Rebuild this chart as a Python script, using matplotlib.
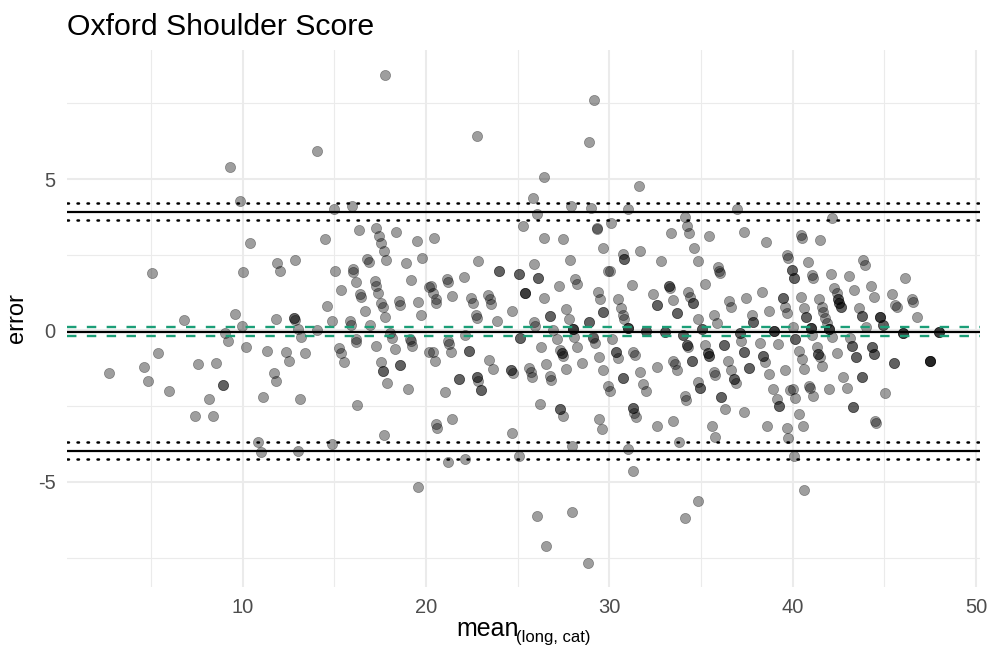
import matplotlib
matplotlib.use("Agg")
import matplotlib.pyplot as plt
import numpy as np

plt.rcParams['font.family'] = ['Liberation Sans', 'DejaVu Sans']

title = "Oxford Shoulder Score"
x_label_main = "mean"
x_label_sub = "(long, cat)"
y_label = "error"
x_ticks = [10, 20, 30, 40, 50]
x_tick_labels = ["10", "20", "30", "40", "50"]
y_ticks = [-5, 0, 5]
y_tick_labels = ["-5", "0", "5"]

# reference lines
bias = -0.04
bias_ci = [0.125, -0.17]
loa = [3.92, -3.98]
loa_ci = [4.20, 3.64, -3.69, -4.25]

pts = [
    (2.71,-1.39),(4.61,-1.19),(4.85,-1.67),(5.36,-0.73),(6.0,-1.99),(7.54,-1.1),(8.54,-1.08),
    (8.91,-1.81),(8.91,-1.81),(8.14,-2.27),(7.40,-2.82),(8.4,-2.82),(6.8,0.35),(9.05,-0.09),
    (9.2,-0.34),(9.94,0.15),(10.2,-0.53),
    (9.31,5.39),(9.85,4.27),(10.4,2.9),(5.05,1.91),(10.0,1.94),(9.58,0.54),
    (17.76,8.42),(14.04,5.91),(15.0,4.01),(15.95,4.12),(14.49,3.02),(16.35,3.32),(17.27,3.39),
    (17.45,3.13),(17.56,2.88),(17.69,2.62),(17.82,2.33),(18.38,3.24),(19.53,2.95),(19.78,2.4),
    (11.89,2.24),(12.02,1.95),(12.85,2.32),(15.03,1.95),(16.0,2.03),(16.03,1.94),(16.8,2.36),
    (16.87,2.25),(18.89,2.23),(16.2,1.61),(15.35,1.34),(17.2,1.64),(17.26,1.48),(17.4,1.23),
    (19.17,1.66),(20.16,1.45),(16.4,1.19),(16.45,1.1),(14.58,0.82),(17.56,0.9),(17.63,0.79),
    (18.53,0.98),(18.6,0.84),(19.55,0.93),(16.69,0.63),(17.78,0.46),(19.74,0.51),(11.82,0.38),
    (12.8,0.42),(12.85,0.36),(12.8,0.42),(14.86,0.32),(15.85,0.32),(15.91,0.18),(16.95,0.18),
    (13.03,0.04),(14.04,0.02),(13.18,-0.2),(16.2,-0.28),(18.04,-0.09),(19.13,-0.27),
    (11.34,-0.68),(12.38,-0.72),(12.53,-1.02),(13.38,-0.75),(11.69,-1.41),(11.83,-1.66),
    (11.09,-2.19),(13.13,-2.25),(15.25,-0.57),(15.35,-0.74),(15.53,-1.03),(16.18,-0.38),
    (16.21,-2.45),(17.26,-0.51),(17.53,-1.03),(17.67,-1.35),(17.67,-1.35),(17.86,-1.72),
    (18.15,-0.26),(18.29,-0.61),(18.58,-1.14),(18.58,-1.14),(19.0,-1.94),(19.17,-0.34),
    (19.26,-0.5),(20.16,-0.71),(10.85,-3.67),(11.0,-4.0),(13.0,-3.97),(14.89,-3.75),
    (17.71,-3.45),(19.58,-5.18),
    (29.18,7.61),(28.91,6.21),(22.78,6.42),(26.45,5.06),(25.82,4.36),(26.06,3.84),(27.93,4.11),
    (28.98,4.05),(25.27,3.46),(29.31,3.39),(29.35,3.35),(30.1,3.56),(26.45,3.06),(27.47,3.03),
    (29.64,2.71),(20.45,3.05),(22.85,2.29),(25.89,2.2),(27.84,2.32),(29.95,1.95),(24.0,1.96),
    (24.0,1.96),(25.06,1.87),(25.06,1.87),(26.13,1.72),(26.13,1.72),(21.16,1.7),(21.22,1.59),
    (22.09,1.78),(20.27,1.47),(20.4,1.23),(20.53,1.04),(20.56,0.9),(21.44,1.14),(22.45,1.06),
    (22.54,0.9),(23.4,1.17),(23.47,1.03),(23.55,0.86),(22.73,0.51),(22.8,0.4),(23.86,0.32),
    (24.68,0.65),(25.39,1.23),(25.39,1.23),(25.39,1.23),(26.45,1.06),(27.27,1.48),(28.13,1.7),
    (28.22,1.53),(29.38,1.26),(29.49,1.04),(29.67,0.62),(29.67,0.62),(26.76,0.49),(26.76,0.49),
    (27.64,0.71),(27.82,0.37),(28.88,0.29),(28.88,0.29),(25.89,0.29),(25.96,0.16),(26.95,0.02),
    (28.0,0.06),(28.0,0.06),(28.0,0.06),(22.13,-0.15),(25.13,-0.25),(25.13,-0.25),(29.13,-0.2),
    (28.07,-0.2),
    (21.18,-0.34),(21.24,-0.45),(20.37,-0.7),(20.49,-1.0),(21.36,-0.7),(22.35,-0.69),(22.35,-0.69),
    (23.45,-0.97),(23.64,-1.27),(21.82,-1.61),(21.82,-1.61),(22.77,-1.52),(22.77,-1.52),
    (22.84,-1.67),(23.0,-1.97),(23.0,-1.97),(21.02,-2.04),(20.55,-3.09),(20.62,-3.23),
    (21.44,-2.91),(24.62,-1.3),(24.62,-1.3),(24.73,-1.39),(25.62,-1.23),(25.71,-1.36),
    (25.8,-1.54),(26.29,-0.53),(26.55,-1.12),(26.76,-1.5),(26.84,-1.63),(26.22,-2.43),
    (27.13,-0.28),(27.4,-0.75),(27.4,-0.75),(27.46,-0.84),(27.31,-0.64),(27.62,-1.26),
    (27.31,-2.6),(27.31,-2.6),(27.46,-2.84),(28.22,-0.53),(28.53,-1.06),(29.09,-0.26),
    (29.22,-0.42),(29.45,-0.86),(29.64,-1.3),(29.45,-2.93),(29.62,-3.25),(24.68,-3.37),
    (27.95,-3.8),(21.18,-4.35),(22.13,-4.25),(25.09,-4.16),(26.07,-6.14),(27.98,-6.0),
    (26.55,-7.1),(28.86,-7.68),
    (31.62,4.78),(31.0,4.01),(36.98,4.01),(34.13,3.74),(34.26,3.46),(34.37,3.21),(33.38,3.21),
    (35.44,3.12),(37.36,3.26),(38.53,2.91),(30.73,2.52),(30.8,2.35),(30.8,2.35),(31.69,2.62),
    (34.64,2.73),(32.84,2.3),(34.84,2.3),(30.04,1.97),(35.91,2.1),(35.98,1.97),(36.04,1.89),
    (39.68,2.49),(39.73,2.38),(39.95,2.0),(39.95,2.0),(31.26,1.5),(33.26,1.48),(33.26,1.48),
    (33.31,1.41),(35.22,1.52),(32.4,1.2),(32.59,0.84),(32.59,0.84),(33.49,1.01),(33.71,0.59),
    (33.71,0.59),(34.31,1.26),(34.4,1.12),(34.58,0.9),(34.58,0.9),(34.84,0.37),(35.73,0.51),
    (35.89,0.24),(36.51,0.98),(36.62,0.79),(37.46,1.08),(38.35,1.28),(37.77,0.51),(37.86,0.29),
    (37.86,0.29),(38.7,0.64),(39.46,1.06),(39.46,1.06),(39.58,0.79),(39.68,0.57),(30.49,1.03),
    (30.62,0.73),(30.73,0.51),(30.8,0.37),(31.0,0.07),(31.0,0.07),(31.0,0.07),(32.0,-0.01),
    (32.0,-0.01),(33.04,-0.04),(33.04,-0.04),(34.04,-0.15),(34.04,-0.15),(35.04,0.04),
    (35.04,0.04),(37.13,-0.09),(37.13,-0.09),(38.99,-0.01),(38.99,-0.01),(38.99,-0.01),
    (30.13,-0.28),(30.35,-0.72),(30.35,-0.72),(30.46,-0.92),(31.31,-0.7),(31.4,-0.81),
    (30.76,-1.58),(30.76,-1.58),(29.95,-1.85),(30.04,-1.99),(31.69,-1.38),(31.86,-1.77),
    (32.0,-1.99),(32.6,-1.19),(31.28,-2.57),(31.28,-2.57),(31.35,-2.71),(31.44,-2.86),
    (32.6,-3.17),(33.49,-2.98),(31.0,-3.92),(31.31,-4.63),(33.49,-1.0),(33.58,-1.12),
    (33.67,-1.3),(34.22,-0.48),(34.22,-0.48),(34.29,-0.53),(34.5,-1.0),(34.5,-1.0),
    (34.13,-2.18),(34.18,-2.29),(33.82,-3.67),(34.82,-1.69),(34.95,-1.91),(34.95,-1.91),
    (35.24,-0.48),(35.37,-0.75),(35.37,-0.75),(35.44,-0.84),(35.44,-0.84),(35.71,-1.36),
    (35.77,-1.47),(36.26,-0.48),(36.26,-0.48),(36.49,-1.0),(36.66,-1.3),(36.8,-1.61),
    (36.8,-1.61),(36.89,-1.74),(36.09,-2.2),(36.09,-2.2),(36.31,-2.6),(35.59,-3.17),
    (35.77,-3.52),(37.35,-2.68),(37.35,-0.72),(37.35,-0.72),(37.64,-1.25),(37.64,-1.25),
    (37.17,-0.34),(38.22,-0.4),(38.4,-0.84),(38.4,-0.84),(38.49,-1.03),(38.73,-1.44),
    (39.22,-0.45),(38.95,-1.94),(39.13,-2.26),(39.24,-2.49),(39.24,-2.49),(38.59,-3.17),
    (39.6,-1.3),(39.68,-3.23),(39.77,-3.56),(39.86,-1.96),(34.82,-5.62),(34.13,-6.18),
    (42.13,3.7),(40.44,3.15),(40.49,3.04),(41.49,2.99),(40.86,2.27),(40.07,1.72),(40.07,1.72),
    (41.07,1.83),(41.13,1.72),(42.08,1.85),(43.09,1.8),(43.82,2.33),(43.95,2.16),(46.13,1.72),
    (42.27,1.41),(43.35,1.34),(44.26,1.47),(40.44,1.12),(41.46,1.04),(42.4,1.23),(42.49,1.03),
    (42.49,1.03),(42.55,0.9),(42.55,0.9),(42.64,0.77),(42.64,0.77),(44.46,1.1),(45.4,1.19),
    (45.58,0.84),(45.67,0.77),(46.53,1.03),(46.59,0.93),(46.77,0.44),(40.62,0.73),(40.73,0.46),
    (40.73,0.46),(41.62,0.77),(41.67,0.62),(41.77,0.4),(41.86,0.24),(43.64,0.73),(43.77,0.48),
    (43.77,0.48),(44.77,0.46),(44.77,0.46),(44.77,0.46),(44.95,0.18),(44.95,0.18),(44.0,0.13),
    (40.0,0.13),(40.99,0.07),(40.99,0.07),(40.99,0.07),(42.0,0.04),(42.0,0.04),(42.0,0.04),
    (46.04,-0.07),(46.04,-0.07),(46.04,-0.07),(48.0,-0.04),(48.0,-0.04),(48.0,-0.04),
    (47.5,-1.0),(47.5,-1.0),(47.5,-1.0),(47.5,-1.0),(45.55,-1.08),(45.55,-1.08),(40.13,-0.29),
    (40.13,-0.29),(41.04,-0.15),(42.13,-0.2),(43.13,-0.26),(43.26,-0.51),(43.26,-0.51),
    (43.46,-0.88),(43.46,-0.88),(44.31,-0.55),(44.31,-0.55),(44.44,-0.79),(44.44,-0.79),
    (40.37,-0.67),(40.49,-0.95),(40.62,-1.27),(41.31,-0.55),(41.4,-0.79),(41.4,-0.79),
    (41.49,-0.86),(41.59,-1.17),(42.4,-0.75),(42.77,-1.52),(42.95,-1.89),(43.77,-1.55),
    (43.77,-1.55),(40.0,-1.94),(40.13,-2.24),(40.91,-1.83),(40.95,-1.91),(41.1,-2.18),
    (41.99,-1.94),(43.28,-2.53),(43.28,-2.53),(45.04,-2.07),(40.37,-2.76),(40.59,-3.17),
    (44.5,-2.98),(44.55,-3.06),(40.08,-4.16),(40.62,-5.26),
]
mean_vals = [p[0] for p in pts]
error_vals = [p[1] for p in pts]

W, H = 992, 650
fig = plt.figure(figsize=(W/100, H/100), dpi=100)
ax = fig.add_axes([66.7/W, 1-587/H, (980-66.7)/W, (587-50)/H])

ax.set_xlim(0.40, 50.22)
ax.set_ylim(-8.47, 9.26)

# grid
for v in [5, 15, 25, 35, 45]:
    ax.axvline(v, color='#EBEBEB', lw=0.8, zorder=0)
for v in [-7.5, -2.5, 2.5, 7.5]:
    ax.axhline(v, color='#EBEBEB', lw=0.8, zorder=0)
for v in x_ticks:
    ax.axvline(v, color='#EBEBEB', lw=1.5, zorder=0)
for v in y_ticks:
    ax.axhline(v, color='#EBEBEB', lw=1.5, zorder=0)

ax.scatter(mean_vals, error_vals, s=54, facecolor='black', edgecolor='black',
           linewidths=0.5, alpha=0.38, zorder=2)

# lines
for v in loa:
    ax.axhline(v, color='black', lw=1.6, zorder=3)
for v in loa_ci:
    ax.axhline(v, color='black', lw=1.8, linestyle=(0, (0.6, 3.4)),
               dash_capstyle='round', zorder=3)
ax.axhline(bias, color='black', lw=1.6, zorder=3)
for v in bias_ci:
    ax.axhline(v, color='#1B9E77', lw=1.7, linestyle=(0, (4, 4.4)), zorder=3)

for s in ax.spines.values():
    s.set_visible(False)
ax.set_xticks(x_ticks)
ax.set_xticklabels(x_tick_labels)
ax.set_yticks(y_ticks)
ax.set_yticklabels(y_tick_labels)
ax.tick_params(length=0, labelsize=14.5, labelcolor='#4D4D4D', pad=8)

ax.set_ylabel(y_label, fontsize=17, labelpad=7)

# x label: main text with smaller subscript
fig.text(456/W, 1-636/H, x_label_main, fontsize=18, ha='left', va='baseline')
fig.text(516/W, 1-642/H, x_label_sub, fontsize=12, ha='left', va='baseline')

fig.text(67/W, 1-35/H, title, fontsize=21.8, ha='left', va='baseline')

fig.savefig("out.png", dpi=100, facecolor='white')
